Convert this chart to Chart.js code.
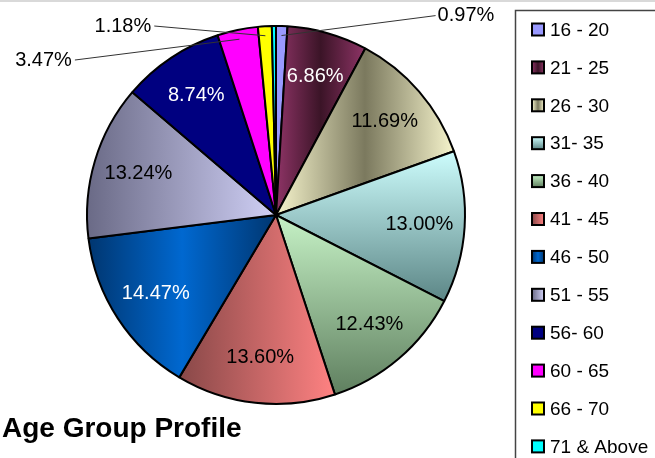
<!DOCTYPE html>
<html>
<head>
<meta charset="utf-8">
<script src="https://cdn.jsdelivr.net/npm/chart.js@4.4.1/dist/chart.umd.min.js"></script>
<style>
  html, body { margin: 0; padding: 0; background: #fff; overflow: hidden; }
</style>
</head>
<body>
<canvas id="age-chart" width="655" height="458"></canvas>
<script>
"use strict";

// data
const ageGroups = ["16 - 20", "21 - 25", "26 - 30", "31- 35", "36 - 40", "41 - 45",
                   "46 - 50", "51 - 55", "56- 60", "60 - 65", "66 - 70", "71 & Above"];
const sharePercent = [0.97, 6.86, 11.69, 13.00, 12.43, 13.60, 14.47, 13.24, 8.74, 3.47, 1.18, 0.35];
const shareLabels = ["0.97%", "6.86%", "11.69%", "13.00%", "12.43%", "13.60%",
                     "14.47%", "13.24%", "8.74%", "3.47%", "1.18%", ""];
const chartTitle = "Age Group Profile";

// fill style of each slice: solid, h (left->right), mid (edge->centre->edge), v (top->bottom)
const sliceFills = [
    { kind: "solid", c: ["#9999ff"] },
    { kind: "mid", c: ["#8e3466", "#3b1427"] },
    { kind: "mid", c: ["#f6f4cc", "#7b795e"] },
    { kind: "v", c: ["#cdfdfd", "#5c8686"] },
    { kind: "v", c: ["#c6f2c6", "#5f7f5f"] },
    { kind: "h", c: ["#884848", "#ff8282"] },
    { kind: "mid", c: ["#003670", "#0068d0"] },
    { kind: "h", c: ["#6a6a86", "#d0d0f6"] },
    { kind: "solid", c: ["#000080"] },
    { kind: "solid", c: ["#ff00ff"] },
    { kind: "solid", c: ["#ffff00"] },
    { kind: "solid", c: ["#00ffff"] },
];
const labelColors = ["#000", "#fff", "#000", "#000", "#000", "#000",
                     "#fff", "#000", "#fff", "#000", "#000", "#000"];
const FONT = "'Liberation Sans', Arial, Helvetica, sans-serif";

function makeFill(ctx, spec, box) {
    if (spec.kind === "solid") return spec.c[0];
    let g;
    if (spec.kind === "v") {
        g = ctx.createLinearGradient(0, box.top, 0, box.bottom);
    } else {
        g = ctx.createLinearGradient(box.left, 0, box.right, 0);
    }
    if (spec.kind === "mid") {
        g.addColorStop(0, spec.c[0]);
        g.addColorStop(0.5, spec.c[1]);
        g.addColorStop(1, spec.c[0]);
    } else {
        g.addColorStop(0, spec.c[0]);
        g.addColorStop(1, spec.c[1]);
    }
    return g;
}

// bounding box of a slice
function sliceBox(cx, cy, r, a0, a1) {
    const pts = [[cx, cy]];
    const add = (a) => pts.push([cx + Math.cos(a) * r, cy + Math.sin(a) * r]);
    add(a0);
    add(a1);
    for (let k = -1; k <= 4; k++) {
        const a = k * Math.PI / 2;
        if (a > a0 && a < a1) add(a);
    }
    const xs = pts.map(p => p[0]), ys = pts.map(p => p[1]);
    return { left: Math.min(...xs), right: Math.max(...xs), top: Math.min(...ys), bottom: Math.max(...ys) };
}

function sliceBackground(context) {
    const chart = context.chart;
    const area = chart.chartArea;
    const i = context.dataIndex;
    const spec = sliceFills[i];
    if (!area || spec.kind === "solid") return spec.c[0];
    const cx = (area.left + area.right) / 2;
    const cy = (area.top + area.bottom) / 2;
    const r = (Math.min(area.width, area.height) - 2) / 2;
    const total = sharePercent.reduce((a, b) => a + b, 0);
    let before = 0;
    for (let k = 0; k < i; k++) before += sharePercent[k];
    const a0 = -Math.PI / 2 + before / total * Math.PI * 2;
    const a1 = a0 + sharePercent[i] / total * Math.PI * 2;
    return makeFill(chart.ctx, spec, sliceBox(cx, cy, r, a0, a1));
}

// labels outside the pie for the thin slices (relative to centre, in radii)
const outsideSpots = {
    0: { dx: 0.855, dy: -1.055, align: "left" },
    9: { dx: -1.08, dy: -0.82, align: "right" },
    10: { dx: -0.66, dy: -1.0, align: "right" },
};

const decorPlugin = {
    id: "decor",
    beforeDraw(chart) {
        const ctx = chart.ctx;
        ctx.save();
        ctx.fillStyle = "#d9d9d9";
        ctx.fillRect(0, 0, chart.width, 2);
        ctx.restore();
    },
    afterDatasetsDraw(chart) {
        const ctx = chart.ctx;
        const meta = chart.getDatasetMeta(0);
        ctx.save();
        ctx.font = "20px " + FONT;
        ctx.textBaseline = "middle";
        meta.data.forEach((arc, i) => {
            const text = shareLabels[i];
            if (!text) return;
            const p = arc.getProps(["x", "y", "startAngle", "endAngle", "outerRadius"], true);
            const mid = (p.startAngle + p.endAngle) / 2;
            const R = p.outerRadius;
            const spot = outsideSpots[i];
            if (spot) {
                const tx = p.x + spot.dx * R;
                const ty = p.y + spot.dy * R;
                ctx.strokeStyle = "#333";
                ctx.lineWidth = 1;
                ctx.beginPath();
                ctx.moveTo(p.x + Math.cos(mid) * R * 0.95, p.y + Math.sin(mid) * R * 0.95);
                ctx.lineTo(tx + (spot.align === "left" ? -2 : 3), ty);
                ctx.stroke();
                ctx.fillStyle = "#000";
                ctx.textAlign = spot.align;
                ctx.fillText(text, tx, ty);
            } else {
                ctx.fillStyle = labelColors[i];
                ctx.textAlign = "center";
                ctx.fillText(text, p.x + Math.cos(mid) * R * 0.76, p.y + Math.sin(mid) * R * 0.76);
            }
        });
        ctx.restore();
    },
    afterDraw(chart) {
        const ctx = chart.ctx;
        ctx.save();
        // legend box
        ctx.strokeStyle = "#444";
        ctx.lineWidth = 1.5;
        ctx.strokeRect(515.5, 10.5, 300, 500);
        ctx.font = "19px " + FONT;
        ctx.textBaseline = "middle";
        ctx.textAlign = "left";
        ageGroups.forEach((name, i) => {
            const y = 29.5 + i * 37.9;
            const box = { left: 532, right: 544, top: y - 6, bottom: y + 6 };
            ctx.fillStyle = makeFill(ctx, sliceFills[i], box);
            ctx.fillRect(532, y - 6, 12, 12);
            ctx.strokeStyle = "#000";
            ctx.lineWidth = 2;
            ctx.strokeRect(532, y - 6, 12, 12);
            ctx.fillStyle = "#000";
            ctx.fillText(name, 550, y + 1);
        });
        // title
        ctx.font = "bold 28px " + FONT;
        ctx.textBaseline = "alphabetic";
        ctx.fillText(chartTitle, 2, 437);
        ctx.restore();
    },
};

const canvas_place = document.getElementById("age-chart");

const ageChart = new Chart(canvas_place, {
    type: "pie",
    data: {
        labels: ageGroups,
        datasets: [
            {
                data: sharePercent,
                backgroundColor: sliceBackground,
                borderColor: "#000",
                borderWidth: 2,
            },
        ],
    },
    options: {
        responsive: false,
        animation: false,
        layout: {
            padding: { left: 86, right: 189, top: 25, bottom: 53 },
        },
        plugins: {
            legend: { display: false },
            tooltip: { enabled: false },
            title: { display: false },
        },
    },
    plugins: [decorPlugin],
});
</script>
</body>
</html>
